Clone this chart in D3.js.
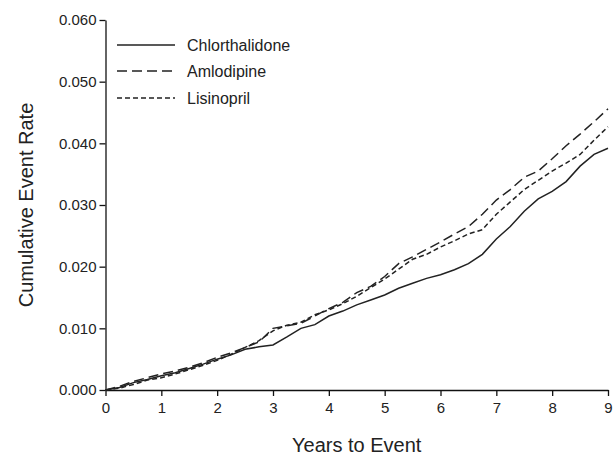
<!DOCTYPE html>
<html>
<head>
<meta charset="utf-8">
<script src="https://cdn.jsdelivr.net/npm/d3@7"></script>
<style>
  html, body { margin: 0; padding: 0; background: #fff; }
  svg { display: block; }
  text { font-family: "Liberation Sans", Arial, sans-serif; fill: #222; }
</style>
</head>
<body>
<svg id="chart" width="613" height="458"></svg>
<script>
// ---- data ----
const years = [0,0.25,0.5,0.75,1,1.25,1.5,1.75,2,2.25,2.5,2.75,3,3.25,3.5,3.75,4,4.25,4.5,4.75,5,5.25,5.5,5.75,6,6.25,6.5,6.75,7,7.25,7.5,7.75,8,8.25,8.5,8.75,9];
const chlorthalidone = [0,0.0004,0.0012,0.0017,0.0023,0.0028,0.0035,0.0042,0.0050,0.0057,0.0066,0.0070,0.0073,0.0086,0.0100,0.0106,0.0120,0.0128,0.0138,0.0146,0.0154,0.0165,0.0173,0.0181,0.0187,0.0195,0.0205,0.0220,0.0245,0.0265,0.0290,0.0310,0.0322,0.0338,0.0363,0.0382,0.0392];
const amlodipine = [0,0.0006,0.0014,0.0020,0.0026,0.0031,0.0037,0.0044,0.0053,0.0060,0.0069,0.0078,0.0100,0.0104,0.0108,0.0120,0.0132,0.0142,0.0158,0.0168,0.0184,0.0205,0.0216,0.0228,0.0240,0.0253,0.0265,0.0285,0.0308,0.0325,0.0345,0.0355,0.0375,0.0396,0.0415,0.0435,0.0456];
const lisinopril = [0,0.0003,0.0009,0.0016,0.0020,0.0026,0.0033,0.0040,0.0048,0.0058,0.0069,0.0080,0.0096,0.0105,0.0110,0.0122,0.0130,0.0140,0.0152,0.0166,0.0180,0.0196,0.0212,0.0220,0.0232,0.0242,0.0253,0.0260,0.0285,0.0305,0.0325,0.0340,0.0355,0.0368,0.0382,0.0405,0.0427];
const seriesNames = ["Chlorthalidone", "Amlodipine", "Lisinopril"];
const xTicks = [0,1,2,3,4,5,6,7,8,9];
const yTicks = [0,0.01,0.02,0.03,0.04,0.05,0.06];

// ---- layout ----
const svg = d3.select("#chart");
const mLeft = 105.5, mRight = 608, mTop = 20, mBottom = 390;
const font = "'Liberation Sans', Arial, sans-serif";

const x = d3.scaleLinear().domain([0, 9]).range([mLeft, mRight]);
const y = d3.scaleLinear().domain([0, 0.06]).range([mBottom, mTop]);

const dashes = { "Chlorthalidone": null, "Amlodipine": "10,5", "Lisinopril": "5,3" };
const values = { "Chlorthalidone": chlorthalidone, "Amlodipine": amlodipine, "Lisinopril": lisinopril };

// axes
const yAxis = svg.append("g").attr("transform", `translate(${mLeft},0)`)
  .call(d3.axisLeft(y).tickValues(yTicks).tickFormat(d3.format(".3f")).tickSize(6).tickPadding(3).tickSizeOuter(0));
const xAxis = svg.append("g").attr("transform", `translate(0,${mBottom})`)
  .call(d3.axisBottom(x).tickValues(xTicks).tickFormat(d3.format("d")).tickSize(6).tickPadding(6).tickSizeOuter(0));
[yAxis, xAxis].forEach(g => {
  g.selectAll("path.domain").attr("stroke", "#111").attr("stroke-width", 1.3);
  g.selectAll(".tick line").attr("stroke", "#111").attr("stroke-width", 1.3);
  g.selectAll(".tick text").style("font-family", font)
    .style("font-size", "15px").attr("fill", "#333");
});

// axis titles
svg.append("text").attr("x", (mLeft + mRight) / 2).attr("y", 452)
  .attr("text-anchor", "middle").style("font-size", "20px").text("Years to Event");
svg.append("text").attr("transform", `translate(33,${(mTop + mBottom) / 2}) rotate(-90)`)
  .attr("text-anchor", "middle").style("font-size", "20px").text("Cumulative Event Rate");

// lines
const line = d3.line().x((d, i) => x(years[i])).y(d => y(d)).curve(d3.curveLinear);
seriesNames.forEach(name => {
  svg.append("path").datum(values[name])
    .attr("d", line)
    .attr("fill", "none")
    .attr("stroke", "#222")
    .attr("stroke-width", 1.5)
    .attr("stroke-dasharray", dashes[name]);
});

// legend
const legendY = [45, 71, 98];
seriesNames.forEach((name, i) => {
  svg.append("line").attr("x1", 117).attr("x2", 175).attr("y1", legendY[i]).attr("y2", legendY[i])
    .attr("stroke", "#222").attr("stroke-width", 1.5).attr("stroke-dasharray", dashes[name]);
  svg.append("text").attr("x", 187).attr("y", legendY[i]).attr("dy", "0.35em")
    .style("font-family", font).style("font-size", "16px").text(name);
});
</script>
</body>
</html>
